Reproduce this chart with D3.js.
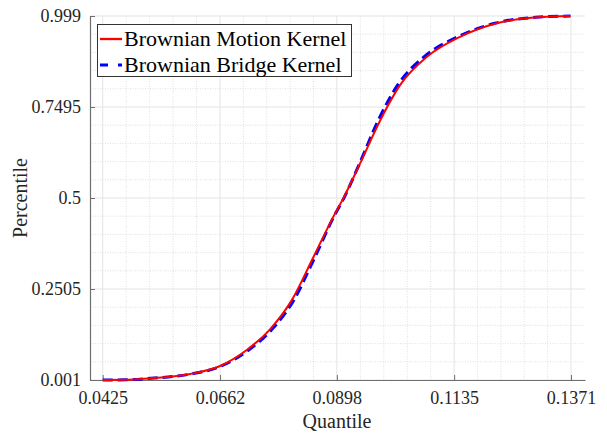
<!DOCTYPE html>
<html>
<head>
<meta charset="utf-8">
<style>
  body { margin: 0; background: #fff; }
  svg { display: block; font-family: "Liberation Serif", "Times New Roman", serif; }
  .axis-title { font-size: 20px; fill: #262626; text-anchor: middle; }
  .legend-text { font-size: 22px; fill: #000; }
</style>
</head>
<body>
<script src="https://cdn.jsdelivr.net/npm/d3@7"></script>
<script>
// percentile levels shared by both kernels
var percentile = [0.001, 0.0015, 0.0057, 0.0174, 0.0394, 0.0833, 0.140, 0.220, 0.339, 0.449,
  0.499, 0.595, 0.714, 0.810, 0.887, 0.942, 0.979, 0.9955, 0.999];

var motionQuantile = [0.0425, 0.0470, 0.0521, 0.0602, 0.0662, 0.0716, 0.0763, 0.0807, 0.0851, 0.0891,
  0.0911, 0.0945, 0.0986, 0.1026, 0.1080, 0.1147, 0.1221, 0.1302, 0.1370];

var bridgeQuantile = [0.0425, 0.0472, 0.0522, 0.0603, 0.0665, 0.0720, 0.0767, 0.0811, 0.0854, 0.0892,
  0.0912, 0.0944, 0.0982, 0.1021, 0.1074, 0.1142, 0.1217, 0.1300, 0.1370];

var xTicks = [0.0425, 0.0662, 0.0898, 0.1135, 0.1371];
var yTicks = [0.001, 0.2505, 0.5, 0.7495, 0.999];
var seriesNames = ["Brownian Motion Kernel", "Brownian Bridge Kernel"];

var W = 607, H = 433;
var mLeft = 90, mRight = 585, mTop = 16, mBottom = 380;

// x axis runs a little past the first and last tick
var xStep = (0.1371 - 0.0425) / 4;
var x = d3.scaleLinear()
    .domain([0.0425 - xStep * 12.7 / 117, 0.1371 + xStep * 14 / 117])
    .range([mLeft, mRight]);
var y = d3.scaleLinear().domain([0.001, 0.999]).range([mBottom, mTop]);

var svg = d3.select("body").append("svg")
    .attr("width", W)
    .attr("height", H);

// minor grid (5 subdivisions per major step), dotted
var xMinor = [], yMinor = [];
for (var i = 0; i < 4; i++) {
  for (var k = 1; k < 5; k++) {
    xMinor.push(xTicks[i] + (xTicks[i + 1] - xTicks[i]) * k / 5);
    yMinor.push(yTicks[i] + (yTicks[i + 1] - yTicks[i]) * k / 5);
  }
}
var grid = svg.append("g");
grid.selectAll(".xminor").data(xMinor).enter().append("line")
    .attr("x1", d => x(d)).attr("x2", d => x(d))
    .attr("y1", mTop).attr("y2", mBottom)
    .attr("stroke", "#d8d8d8").attr("stroke-width", 0.8).attr("stroke-dasharray", "1,1.5");
grid.selectAll(".yminor").data(yMinor).enter().append("line")
    .attr("x1", mLeft).attr("x2", mRight)
    .attr("y1", d => y(d)).attr("y2", d => y(d))
    .attr("stroke", "#d8d8d8").attr("stroke-width", 0.8).attr("stroke-dasharray", "1,1.5");
grid.selectAll(".xmajor").data(xTicks).enter().append("line")
    .attr("x1", d => x(d)).attr("x2", d => x(d))
    .attr("y1", mTop).attr("y2", mBottom)
    .attr("stroke", "#e4e4e4").attr("stroke-width", 1);
grid.selectAll(".ymajor").data(yTicks).enter().append("line")
    .attr("x1", mLeft).attr("x2", mRight)
    .attr("y1", d => y(d)).attr("y2", d => y(d))
    .attr("stroke", "#e4e4e4").attr("stroke-width", 1);

// axes, MATLAB style ticks pointing inward
var xAxis = svg.append("g")
    .attr("transform", "translate(0," + mBottom + ")")
    .call(d3.axisBottom(x).tickValues(xTicks).tickSize(-5).tickPadding(11)
      .tickFormat(d => String(d)).tickSizeOuter(0));
var yAxis = svg.append("g")
    .attr("transform", "translate(" + mLeft + ",0)")
    .call(d3.axisLeft(y).tickValues(yTicks).tickSize(-5).tickPadding(9)
      .tickFormat(d => String(d)).tickSizeOuter(0));
[xAxis, yAxis].forEach(function(a) {
  a.style("font-family", "'Liberation Serif', 'Times New Roman', serif").style("font-size", "18px");
  a.select(".domain").attr("stroke", "#6e6e6e").attr("stroke-width", 1.2);
  a.selectAll(".tick line").attr("stroke", "#6e6e6e");
  a.selectAll(".tick text").attr("fill", "#262626");
});

svg.append("text").attr("class", "axis-title")
    .attr("x", (mLeft + mRight) / 2 - 0.5).attr("y", 428)
    .text("Quantile");
svg.append("text").attr("class", "axis-title")
    .attr("transform", "translate(27," + (mTop + mBottom) / 2 + ") rotate(-90)")
    .text("Percentile");

// curves: blue dashed underneath, red solid on top
var line = d3.line().x(d => x(d[0])).y(d => y(d[1])).curve(d3.curveMonotoneX);
var motion = motionQuantile.map((q, i) => [q, percentile[i]]);
var bridge = bridgeQuantile.map((q, i) => [q, percentile[i]]);

svg.append("path").datum(bridge)
    .attr("d", line).attr("fill", "none")
    .attr("stroke", "#0000ff").attr("stroke-width", 3)
    .attr("stroke-dasharray", "10,5");
svg.append("path").datum(motion)
    .attr("d", line).attr("fill", "none")
    .attr("stroke", "#ff0000").attr("stroke-width", 2);

// legend
var legend = svg.append("g");
legend.append("rect")
    .attr("x", 97.5).attr("y", 24.5).attr("width", 254).attr("height", 52)
    .attr("fill", "#fff").attr("stroke", "#333").attr("stroke-width", 1);
var styles = [
  { color: "#ff0000", dash: null, w: 2.3 },
  { color: "#0000ff", dash: "8,10", w: 2.8 }
];
seriesNames.forEach(function(name, i) {
  var ly = 39 + i * 26;
  legend.append("line")
      .attr("x1", 100).attr("x2", 122).attr("y1", ly).attr("y2", ly)
      .attr("stroke", styles[i].color).attr("stroke-width", styles[i].w)
      .attr("stroke-dasharray", styles[i].dash);
  legend.append("text").attr("class", "legend-text")
      .attr("x", 124).attr("y", ly + 7)
      .text(name);
});
</script>
</body>
</html>
